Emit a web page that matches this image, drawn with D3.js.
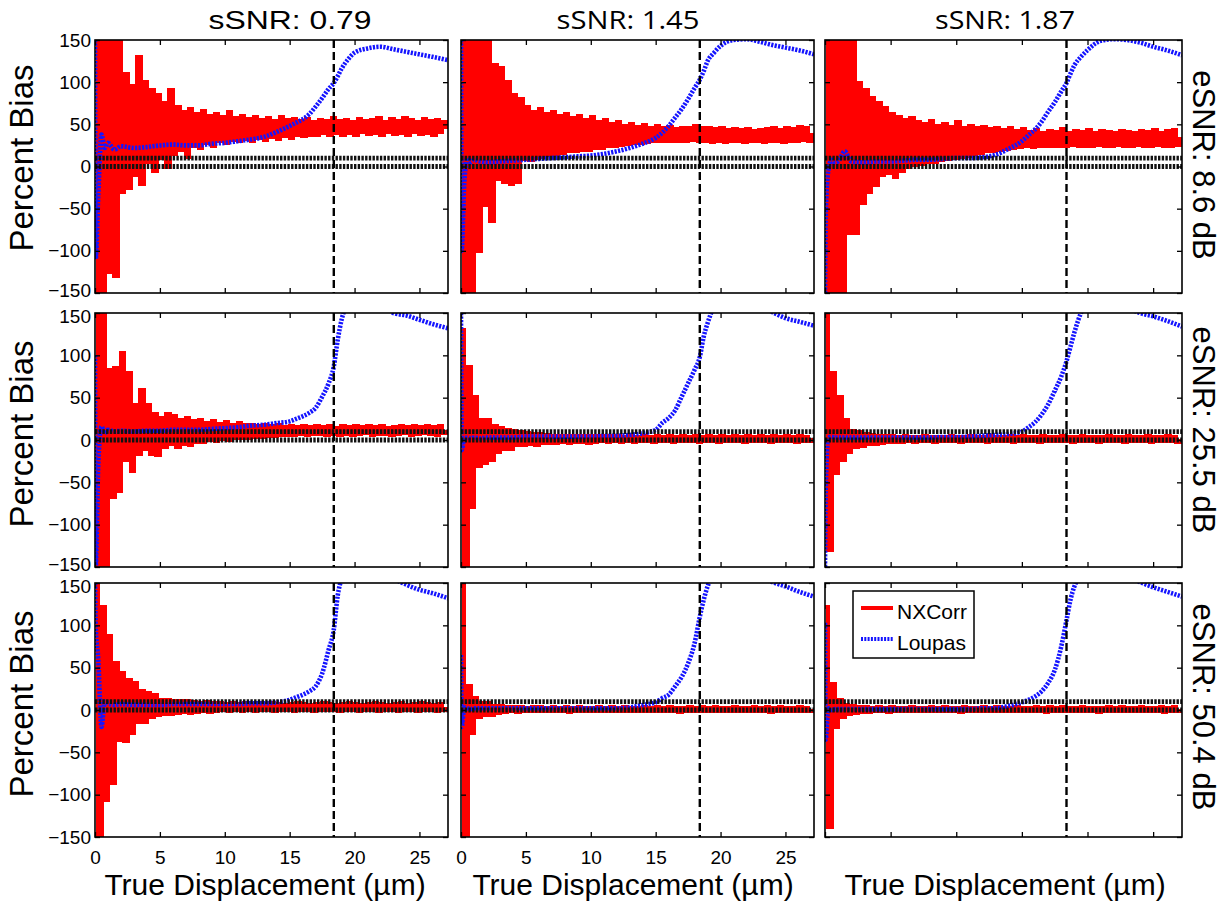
<!DOCTYPE html>
<html>
<head>
<meta charset="utf-8">
<script src="https://cdn.jsdelivr.net/npm/d3@7"></script>
<style>
  body { margin: 0; background: #fff; }
  svg { display: block; }
</style>
</head>
<body>
<svg id="chart" width="1231" height="907"></svg>
<script>
// ---------- labels and ticks ----------
const colTitles = ["sSNR: 0.79", "sSNR: 1.45", "sSNR: 1.87"];
const rowLabels = ["eSNR: 8.6 dB", "eSNR: 25.5 dB", "eSNR: 50.4 dB"];
const xTicks = [0, 5, 10, 15, 20, 25];
const yTicks = [-150, -100, -50, 0, 50, 100, 150];
const xDomain = [0, 27.2];
const yDomain = [-150, 150];
const refLines = [0, 10];          // horizontal reference levels (%)
const cutoff = 18.4;               // displacement marked by the dashed line (µm)
const seriesNames = ["NXCorr", "Loupas"];

// sampling grid of the NXCorr estimates (µm)
const redX = d3.range(0, 27.001, 0.25);

// NXCorr percent bias, row = eSNR, column = sSNR
const nxcorr_r1c1 = [
  -160,160,-150,160,-125,160,-130,150,-30,110,-25,95,
  -10,130,-20,100,5,90,-5,85,10,75,0,90,
  15,70,20,65,12,68,25,62,22,66,28,60,
  25,62,30,58,28,64,32,57,30,60,33,56,
  30,58,34,55,32,57,35,54,33,58,36,55,
  34,56,38,54,36,56,38,53,37,55,40,54,
  38,57,40,54,37,55,40,53,38,56,41,54,
  39,55,40,57,38,53,41,56,39,54,40,57,
  38,55,41,53,39,56,40,54,38,55,41,53,
  45];
const nxcorr_r1c2 = [
  160,-160,160,-150,160,-100,160,-45,155,-65,120,-15,
  117,-18,100,-20,85,-18,80,9,70,8,65,10,
  68,12,62,14,64,15,60,16,62,18,57,18,
  60,20,55,20,58,22,52,22,55,24,50,25,
  52,26,48,27,50,28,47,28,49,29,46,30,
  48,30,45,31,47,30,44,31,46,30,45,32,
  48,31,46,30,45,29,44,31,45,29,43,30,
  44,30,43,29,44,31,42,30,43,29,44,31,
  45,30,43,29,46,31,44,30,47,32,45,31,
  40];
const nxcorr_r1c3 = [
  160,-160,160,-160,160,-150,160,-79,155,-79,99,-43,
  91,-30,81,-22,75,-10,69,-8,62,-12,59,-5,
  55,0,57,2,52,3,50,5,54,6,48,8,
  50,9,47,10,53,12,46,13,48,15,45,16,
  47,18,44,19,46,20,43,21,45,22,42,23,
  44,24,41,23,43,24,40,25,42,24,41,25,
  44,24,40,26,42,25,41,24,43,25,40,26,
  42,25,41,24,40,26,42,25,41,24,40,26,
  42,25,41,24,43,26,40,25,42,24,43,26,
  35];
const nxcorr_r2c1 = [
  160,-160,160,-160,83,-67,85,-60,103,-24,79,-37,
  41,-16,59,-10,41,-16,30,-18,26,-8,30,-5,
  28,-8,24,-4,26,-6,22,-2,24,-2,20,0,
  22,-1,19,1,21,0,18,2,20,2,17,3,
  18,4,16,4,17,5,16,5,17,6,15,6,
  16,6,15,7,16,6,15,7,16,7,15,6,
  16,7,14,6,16,7,15,6,16,7,15,8,
  16,6,15,7,16,7,14,6,15,7,16,8,
  15,6,16,7,15,8,16,7,15,6,16,8,
  12];
const nxcorr_r2c2 = [
  130,-160,86,-79,51,-31,24,-27,24,-24,16,-14,
  14,-10,12,-10,10,-6,9,-6,8,-5,7,-6,
  7,-3,6,-3,5,-3,5,-2,4,-3,5,-2,
  4,-2,5,-3,4,-2,4,-1,5,-2,4,-1,
  4,-2,3,-1,4,-2,3,-1,4,-1,3,-2,
  4,-1,3,-1,4,-2,3,-1,4,-1,3,-1,
  4,-2,3,-1,4,-1,3,-2,4,-1,3,-1,
  4,-1,3,-2,4,-1,3,-1,4,-1,3,-2,
  4,-1,3,-1,4,-1,3,-2,4,-1,3,-1,
  2];
const nxcorr_r2c3 = [
  160,-130,79,-39,51,-24,24,-14,10,-8,9,-7,
  7,-4,6,-4,5,-3,4,-2,4,-2,3,-2,
  4,-1,3,-2,3,-1,4,-1,3,-2,3,-1,
  3,-1,4,-1,3,-2,3,-1,4,-1,3,-1,
  3,-2,4,-1,3,-1,3,-1,4,-2,3,-1,
  4,-1,3,-1,3,-2,4,-1,3,-1,3,-1,
  4,-1,3,-2,3,-1,4,-1,3,-1,3,-2,
  3,-1,4,-1,3,-1,3,-2,4,-1,3,-1,
  3,-1,4,-2,3,-1,3,-1,4,-1,3,-2,
  1];
const nxcorr_r3c1 = [
  160,-160,122,-106,87,-86,55,-35,44,-37,35,-27,
  32,-14,22,-14,20,-8,18,-6,12,-4,12,-4,
  10,-3,11,-2,10,-3,9,-2,8,-1,9,-2,
  8,-1,8,0,7,-1,8,0,7,-1,8,0,
  7,-1,8,0,7,0,8,-1,7,0,6,0,
  7,-1,8,0,7,0,6,-1,7,0,8,0,
  7,0,6,-1,7,0,8,0,7,-1,6,0,
  7,0,8,-1,7,0,6,0,7,-1,8,0,
  6,0,7,-1,8,0,7,0,6,-1,7,0,
  4];
const nxcorr_r3c2 = [
  160,-160,28,-27,14,-8,8,-6,8,-6,5,-3,
  4,-2,3,-1,3,-2,3,-1,2,-1,3,-1,
  3,-1,2,-1,3,-1,2,-1,3,-2,2,-1,
  3,-1,2,-1,2,-1,3,-1,2,-1,3,-1,
  2,-1,3,-1,2,-1,2,-1,3,-1,2,-1,
  3,-1,2,-1,3,-1,2,-2,2,-1,3,-1,
  2,-1,3,-1,2,-1,3,-1,2,-1,2,-1,
  3,-1,2,-1,2,-1,3,-1,2,-1,3,-2,
  2,-1,3,-1,2,-1,2,-1,3,-1,2,-1,
  1];
const nxcorr_r3c3 = [
  122,-138,30,-20,12,-8,6,-4,4,-3,3,-2,
  3,-2,2,-1,3,-1,2,-2,3,-1,2,-1,
  2,-1,3,-1,2,-1,2,-1,3,-1,2,-1,
  3,-1,2,-1,2,-2,3,-1,2,-1,2,-1,
  3,-1,2,-1,3,-1,2,-1,2,-1,3,-1,
  2,-1,2,-1,3,-1,2,-2,3,-1,2,-1,
  3,-1,2,-1,2,-1,3,-1,2,-1,2,-2,
  2,-1,3,-1,2,-1,3,-1,2,-1,2,-1,
  3,-1,2,-1,2,-1,3,-2,2,-1,3,-1,
  1];

// sampling grid of the Loupas estimates (µm)
const blueX = [0, 0.05, 0.25, 0.5, 0.75, 1, 1.5, 2,
  3, 4, 5, 6, 7, 8, 9, 10, 11, 12, 13, 14,
  15, 15.5, 16, 16.5, 17, 17.5, 18, 18.4, 18.7, 19, 19.5, 20,
  21, 22, 23, 24, 25, 26, 27.2];

// Loupas percent bias, row = eSNR, column = sSNR
const loupas_r1c1 = [150,-110,-35,38,22,28,20,24, 22,23,25,26,25,25,27,28,30,32,35,41,
  48,52,56,62,71,81,92,99,107,116,127,135, 140,142,139,136,133,130,126];
const loupas_r1c2 = [150,-100,-20,10,5,8,6,5, 6,7,8,9,10,11,12,13,15,18,22,27,
  34,40,48,58,68,80,93,103,113,125,135,143, 150,151,148,144,141,138,133];
const loupas_r1c3 = [-150,-60,-5,8,5,6,18,6, 5,6,6,7,8,8,9,10,10,11,14,21,
  30,37,44,53,65,76,89,99,110,120,130,138, 149,151,150,147,142,138,132];
const loupas_r2c1 = [100,-150,-30,16,8,12,10,11, 10,11,11,12,12,12,13,14,15,17,18,20,
  22,25,28,32,38,51,67,87,118,142,162,172, 180,168,150,147,142,137,132];
const loupas_r2c2 = [150,-12,2,3,2,3,2,3, 3,3,4,4,4,4,4,4,5,5,6,8,
  12,20,26,35,51,67,83,98,122,138,158,168, 175,168,158,151,144,140,135];
const loupas_r2c3 = [-150,-60,2,4,3,3,3,3, 3,3,3,3,3,3,3.5,3.5,4,5,6,7,
  10,15,21,30,42,58,75,93,110,127,150,162, 172,165,157,150,146,141,134];
const loupas_r3c1 = [150,100,60,-20,10,8,6,7, 6,6,6,7,7,7,7,7,7,8,8,9,
  12,15,18,22,28,43,71,95,135,155,170,178, 182,172,156,148,142,138,132];
const loupas_r3c2 = [65,-20,3,2,1,2,2,2, 2,2,2,2,2,2,2,2,2,2,3,6,
  9,14,18,28,39,55,79,110,130,146,160,170, 176,168,158,151,146,140,134];
const loupas_r3c3 = [103,-35,2,0,1,1,1,1, 1,1,1,1,1,1,1,1,1,2,2,5,
  9,12,16,22,32,47,75,106,130,146,160,168, 174,166,157,151,145,140,134];

const nxcorr = [
  [nxcorr_r1c1, nxcorr_r1c2, nxcorr_r1c3],
  [nxcorr_r2c1, nxcorr_r2c2, nxcorr_r2c3],
  [nxcorr_r3c1, nxcorr_r3c2, nxcorr_r3c3]
];
const loupas = [
  [loupas_r1c1, loupas_r1c2, loupas_r1c3],
  [loupas_r2c1, loupas_r2c2, loupas_r2c3],
  [loupas_r3c1, loupas_r3c2, loupas_r3c3]
];

// ---------- layout ----------
const colLeft = [95, 461, 825], colRight = [448, 814, 1182];
const rowTop = [40, 313, 583], rowBottom = [293, 567, 837];
const FONT = "'Liberation Sans', Arial, Helvetica, sans-serif";
const RED = "#ff0000", BLUE = "#1414ff";

const svg = d3.select("#chart");
svg.append("rect").attr("width", 1231).attr("height", 907).attr("fill", "#fff");
const defs = svg.append("defs");

for (let r = 0; r < 3; r++) {
  for (let c = 0; c < 3; c++) {
    const x = d3.scaleLinear().domain(xDomain).range([colLeft[c], colRight[c]]);
    const y = d3.scaleLinear().domain(yDomain).range([rowBottom[r], rowTop[r]]);
    const clipId = `clip-${r}-${c}`;
    defs.append("clipPath").attr("id", clipId).append("rect")
      .attr("x", colLeft[c]).attr("y", rowTop[r])
      .attr("width", colRight[c] - colLeft[c]).attr("height", rowBottom[r] - rowTop[r]);

    const g = svg.append("g").attr("class", "panel");
    const plot = g.append("g").attr("clip-path", `url(#${clipId})`);

    // NXCorr: thick stepped trace
    const redLine = d3.line()
      .x((d, i) => x(redX[i])).y(d => y(d))
      .curve(d3.curveStepAfter);
    plot.append("path").datum(nxcorr[r][c])
      .attr("d", redLine).attr("fill", "none")
      .attr("stroke", RED).attr("stroke-width", 4.3)
      .attr("stroke-linejoin", "miter").attr("shape-rendering", "crispEdges");

    // Loupas: thick dotted trace
    const blueLine = d3.line()
      .x((d, i) => x(blueX[i])).y(d => y(d))
      .curve(d3.curveMonotoneX);
    plot.append("path").datum(loupas[r][c])
      .attr("d", blueLine).attr("fill", "none")
      .attr("stroke", BLUE).attr("stroke-width", 4.6)
      .attr("stroke-dasharray", "2.2,1.3");

    // reference bias levels
    plot.selectAll("line.ref").data(refLines).enter().append("line")
      .attr("class", "ref")
      .attr("x1", x(xDomain[0])).attr("x2", x(xDomain[1]))
      .attr("y1", d => y(d)).attr("y2", d => y(d))
      .attr("stroke", "#111").attr("stroke-width", 4.8)
      .attr("stroke-dasharray", "2.4,1.3");

    // cutoff displacement
    plot.append("line")
      .attr("x1", x(cutoff)).attr("x2", x(cutoff))
      .attr("y1", y(yDomain[1])).attr("y2", y(yDomain[0]))
      .attr("stroke", "#000").attr("stroke-width", 2.4)
      .attr("stroke-dasharray", "8,4");

    // axes with inward ticks on all four sides
    const showX = (r === 2 && c < 2);
    const showY = (c === 0);
    const axB = d3.axisBottom(x).tickValues(xTicks).tickSizeInner(-5).tickSizeOuter(0)
      .tickPadding(14).tickFormat(showX ? d3.format("d") : () => "");
    const axT = d3.axisTop(x).tickValues(xTicks).tickSizeInner(-5).tickSizeOuter(0)
      .tickFormat(() => "");
    const axL = d3.axisLeft(y).tickValues(yTicks).tickSizeInner(-5).tickSizeOuter(0)
      .tickPadding(4).tickFormat(showY ? d3.format("d") : () => "");
    const axR = d3.axisRight(y).tickValues(yTicks).tickSizeInner(-5).tickSizeOuter(0)
      .tickFormat(() => "");

    const axes = [
      g.append("g").attr("transform", `translate(0,${rowBottom[r]})`).call(axB),
      g.append("g").attr("transform", `translate(0,${rowTop[r]})`).call(axT),
      g.append("g").attr("transform", `translate(${colLeft[c]},0)`).call(axL),
      g.append("g").attr("transform", `translate(${colRight[c]},0)`).call(axR)
    ];
    axes.forEach(a => {
      a.select(".domain").remove();
      a.selectAll(".tick line").attr("stroke", "#000").attr("stroke-width", 1.3);
      a.selectAll(".tick text").attr("font-family", FONT).attr("font-size", 19).attr("fill", "#000");
    });
    // keep the end labels of stacked panels apart
    axes[2].selectAll(".tick text")
      .attr("transform", d => d === yDomain[1] && r > 0 ? "translate(0,3)"
                            : d === yDomain[0] && r < 2 ? "translate(0,-3)" : null);

    // frame
    g.append("rect")
      .attr("x", colLeft[c]).attr("y", rowTop[r])
      .attr("width", colRight[c] - colLeft[c]).attr("height", rowBottom[r] - rowTop[r])
      .attr("fill", "none").attr("stroke", "#000").attr("stroke-width", 1.6);

    // legend in the last panel
    if (r === 2 && c === 2) {
      const lg = g.append("g").attr("class", "legend");
      lg.append("rect").attr("x", 853).attr("y", 591).attr("width", 121).attr("height", 67)
        .attr("fill", "#fff").attr("stroke", "#000").attr("stroke-width", 1.5);
      lg.append("line").attr("x1", 861).attr("x2", 893).attr("y1", 608).attr("y2", 608)
        .attr("stroke", RED).attr("stroke-width", 4);
      lg.append("line").attr("x1", 861).attr("x2", 893).attr("y1", 639).attr("y2", 639)
        .attr("stroke", BLUE).attr("stroke-width", 4).attr("stroke-dasharray", "2,1.3");
      lg.selectAll("text").data(seriesNames).enter().append("text")
        .attr("x", 897).attr("y", (d, i) => 619 + i * 31)
        .attr("font-family", FONT).attr("font-size", 21).text(d => d);
    }
  }
}

// column titles
const titleX = [290, 628, 1005];
const titleW = [163, 143, 140];
const titleFont = [FONT, "'Open Sans', 'Noto Sans', sans-serif", "'Open Sans', 'Noto Sans', sans-serif"];
svg.selectAll("text.col-title").data(colTitles).enter().append("text")
  .attr("class", "col-title")
  .attr("x", (d, i) => titleX[i]).attr("y", 29)
  .attr("text-anchor", "middle")
  .attr("font-family", (d, i) => titleFont[i])
  .attr("font-size", (d, i) => i === 0 ? 26 : 25)
  .attr("textLength", (d, i) => titleW[i]).attr("lengthAdjust", "spacingAndGlyphs")
  .text(d => d);

// row labels on the right
const rowLabelY = [165, 430, 707];
svg.selectAll("text.row-label").data(rowLabels).enter().append("text")
  .attr("class", "row-label")
  .attr("transform", (d, i) => `translate(1193,${rowLabelY[i]}) rotate(90)`)
  .attr("text-anchor", "middle")
  .attr("font-family", FONT).attr("font-size", 31)
  .text(d => d);

// y-axis titles
const yTitleY = [158, 434, 704];
svg.selectAll("text.y-title").data(yTitleY).enter().append("text")
  .attr("class", "y-title")
  .attr("transform", d => `translate(33,${d}) rotate(-90)`)
  .attr("text-anchor", "middle")
  .attr("font-family", FONT).attr("font-size", 33)
  .text("Percent Bias");

// x-axis titles
const xTitleX = [265, 633, 1005];
svg.selectAll("text.x-title").data(xTitleX).enter().append("text")
  .attr("class", "x-title")
  .attr("x", d => d).attr("y", 895)
  .attr("text-anchor", "middle")
  .attr("font-family", FONT).attr("font-size", 30)
  .text("True Displacement (µm)");
</script>
</body>
</html>
